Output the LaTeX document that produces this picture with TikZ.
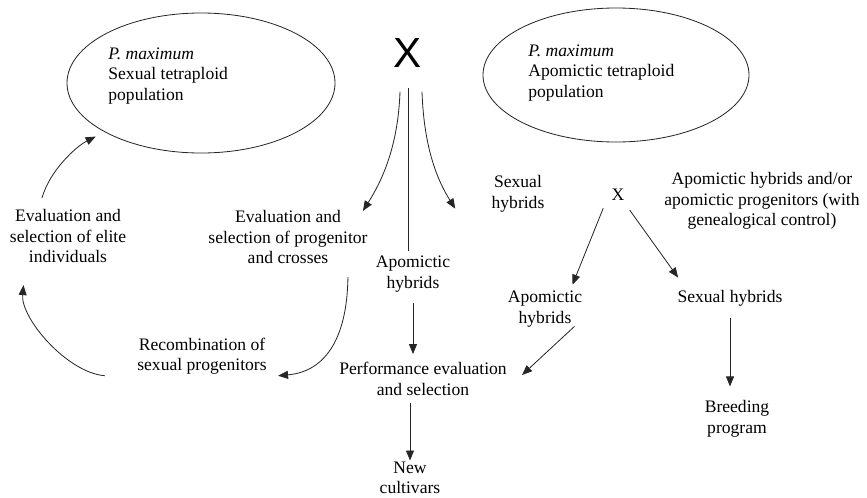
\documentclass[tikz,border=0pt]{standalone}
\usepackage{fontspec}
\setmainfont{Liberation Serif}
\setsansfont{Liberation Sans}
\usetikzlibrary{shapes.geometric,arrows.meta,positioning}

\begin{document}
\begin{tikzpicture}[x=0.03cm, y=-0.03cm,
    txt/.style={align=center, inner sep=1pt, font=\fontsize{15}{17.5}\selectfont},
    pop/.style={draw, ellipse, line width=0.7pt, black!85},
    line/.style={line width=0.7pt, black!85},
    arr/.style={line, -{Triangle[length=3mm,width=2.4mm]}}]
    \useasboundingbox (0,0) rectangle (867,497);

    % --- Parent populations ---
    \node[pop, minimum width=8.04cm, minimum height=4.2cm] (sexpop) at (201,83) {};
    \node[txt, align=left, anchor=west] (sexpoptxt) at (107,76) {\textit{P. maximum}\\Sexual tetraploid\\population};
    \node[pop, minimum width=7.98cm, minimum height=4.02cm] (apopop) at (616,75) {};
    \node[txt, align=left, anchor=west] (apopoptxt) at (527,73) {\textit{P. maximum}\\Apomictic tetraploid\\population};

    % --- Cross ---
    \node[inner sep=0pt, font=\sffamily\fontsize{36}{36}\selectfont] (bigx) at (408,53) {X};

    % --- Left cycle ---
    \node[txt] (evalelite) at (68,236) {Evaluation and\\selection of elite\\individuals};
    \node[txt] (evalprog) at (288,237) {Evaluation and\\selection of progenitor\\and crosses};
    \node[txt] (recomb) at (202,356) {Recombination of\\sexual progenitors};

    % --- Middle branch ---
    \node[txt] (apohyb) at (413,274) {Apomictic\\hybrids};
    \node[txt] (perf) at (423,379) {Performance evaluation\\and selection};
    \node[txt] (newcult) at (410,478) {New\\cultivars};

    % --- Right branch ---
    \node[txt] (sexhyb) at (518,194) {Sexual\\hybrids};
    \node[txt] (xsmall) at (618,195) {X};
    \node[txt] (apoprog) at (762,201) {Apomictic hybrids and/or\\apomictic progenitors (with\\genealogical control)};
    \node[txt] (apohybr) at (545,309) {Apomictic\\hybrids};
    \node[txt] (sexhybr) at (730,298) {Sexual hybrids};
    \node[txt] (breed) at (737,419) {Breeding\\program};

    % Arrows from the cross
    \draw[arr] ([shift={(-8,24)}]bigx.south) .. controls +(-2,58) and +(17,-27) .. ([shift={(-6,2)}]evalprog.north east);
    \draw[line] ([shift={(0,20)}]bigx.south) -- ([shift={(0,-4)}]bigx.south |- apohyb.north);
    \draw[arr] ([shift={(14,24)}]bigx.south) .. controls +(2,58) and +(-17,-27) .. ([shift={(-35,-5)}]sexhyb.south west);

    % Selection cycle
    \draw[arr] ([shift={(-21,12)}]evalprog.south east) .. controls +(-1,65) and +(45,-4) .. ([shift={(10,0)}]recomb.south east);
    \draw[arr] ([shift={(-31,0)}]recomb.south west) .. controls +(-38,-3) and +(-3,33) .. ([shift={(15,21)}]evalelite.south west);
    \draw[arr, shorten >=0.3cm] ([shift={(-26,-10)}]evalelite.north) .. controls +(8,-28) and +(-28,14) .. (sexpop.207);

    % Middle column
    \draw[arr, shorten <=8pt, shorten >=6pt] (apohyb.south) -- (apohyb.south |- perf.north);
    \draw[arr, shorten <=5pt] (newcult.north |- perf.south) -- (newcult.north);

    % Second cross
    \draw[arr] ([shift={(-7,6)}]xsmall.south west) -- ([shift={(-11,-5)}]apohybr.north east);
    \draw[arr] ([shift={(4,8)}]xsmall.south east) -- ([shift={(2,-11)}]sexhybr.north west);
    \draw[arr] ([shift={(-9,-2)}]apohybr.south east) -- ([shift={(14,-4)}]perf.east);
    \draw[arr, shorten <=9pt, shorten >=11pt] (sexhybr.south) -- (sexhybr.south |- breed.north);
\end{tikzpicture}
\end{document}
